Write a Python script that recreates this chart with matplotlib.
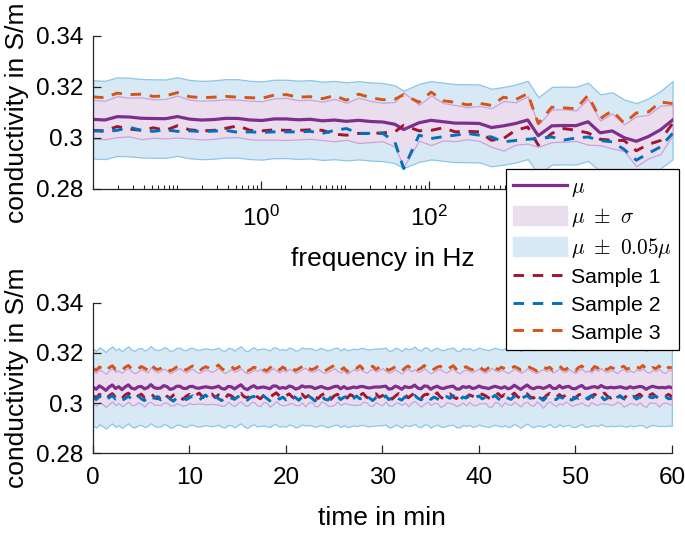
import numpy as np
import matplotlib
matplotlib.use('Agg')
import matplotlib.pyplot as plt
from matplotlib.ticker import FixedLocator, LogLocator, NullFormatter
from matplotlib.lines import Line2D
from matplotlib.patches import Patch

plt.rcParams['font.family'] = ['Liberation Sans', 'DejaVu Sans']
plt.rcParams['mathtext.fontset'] = 'custom'
plt.rcParams['mathtext.rm'] = 'Liberation Sans'
plt.rcParams['mathtext.it'] = 'Liberation Sans:italic'

# frequency sweep (Hz) and conductivity of the three samples (S/m)
freq = [0.01, 0.0139, 0.0194, 0.0270, 0.0376, 0.0523, 0.0729, 0.101, 0.141, 0.197,
        0.274, 0.381, 0.531, 0.739, 1.03, 1.43, 2.00, 2.78, 3.87, 5.39,
        7.50, 10.4, 14.5, 20.2, 28.2, 39.2, 50, 76.1, 106, 148,
        205, 286, 398, 554, 772, 1070, 1500, 2000, 2900, 4040,
        5620, 7830, 10900, 15200, 21100, 29400, 41000, 57000, 79400]
freq_s1 = [0.3030, 0.3028, 0.3045, 0.3035, 0.3030, 0.3040, 0.3030, 0.3048, 0.3032, 0.3028,
           0.3030, 0.3038, 0.3048, 0.3030, 0.3028, 0.3032, 0.3030, 0.3030, 0.3032, 0.3030,
           0.3015, 0.3011, 0.3018, 0.3018, 0.3020, 0.3024, 0.3050, 0.3028, 0.3030, 0.3040,
           0.3024, 0.3026, 0.3024, 0.2991, 0.2998, 0.3030, 0.3043, 0.2972, 0.3018, 0.3037,
           0.3030, 0.3020, 0.2995, 0.2991, 0.2990, 0.2950, 0.2975, 0.2990, 0.3057]
freq_s2 = [0.3028, 0.3026, 0.3030, 0.3042, 0.3030, 0.3026, 0.3032, 0.3026, 0.3028, 0.3025,
           0.3027, 0.3030, 0.3022, 0.3024, 0.3022, 0.3024, 0.3024, 0.3024, 0.3026, 0.3018,
           0.3030, 0.3037, 0.3018, 0.3018, 0.3018, 0.2985, 0.2880, 0.3011, 0.2998, 0.3005,
           0.3011, 0.3018, 0.3011, 0.3004, 0.2985, 0.2990, 0.2995, 0.2998, 0.3004, 0.2992,
           0.3000, 0.3004, 0.2990, 0.2985, 0.2955, 0.2913, 0.2940, 0.2965, 0.3018]
freq_s3 = [0.3161, 0.3158, 0.3176, 0.3170, 0.3172, 0.3163, 0.3165, 0.3178, 0.3162, 0.3158,
           0.3160, 0.3163, 0.3160, 0.3158, 0.3156, 0.3168, 0.3170, 0.3160, 0.3162, 0.3154,
           0.3166, 0.3148, 0.3172, 0.3158, 0.3150, 0.3152, 0.3170, 0.3140, 0.3180, 0.3146,
           0.3140, 0.3130, 0.3136, 0.3128, 0.3160, 0.3150, 0.3174, 0.3057, 0.3121, 0.3118,
           0.3115, 0.3167, 0.3076, 0.3107, 0.3058, 0.3098, 0.3102, 0.3141, 0.3135]

# long-term measurement, one value every 20 s (units of 1e-4 S/m)
time_min = np.linspace(0, 60, 181)
time_s1 = np.array([
    3030, 3021, 3035, 3027, 3016, 3029, 3038, 3024, 3031, 3019,
    3033, 3040, 3026, 3018, 3028, 3036, 3022, 3030, 3039, 3025,
    3017, 3029, 3041, 3027, 3020, 3032, 3037, 3024, 3015, 3028,
    3035, 3023, 3031, 3040, 3026, 3018, 3030, 3036, 3022, 3033,
    3027, 3016, 3034, 3029, 3019, 3031, 3039, 3025, 3021, 3032,
    3038, 3026, 3017, 3030, 3035, 3023, 3033, 3041, 3028, 3019,
    3029, 3037, 3024, 3016, 3031, 3036, 3022, 3030, 3040, 3027,
    3018, 3032, 3038, 3025, 3015, 3029, 3035, 3026, 3033, 3020,
    3034, 3027, 3017, 3031, 3039, 3024, 3019, 3032, 3037, 3023,
    3030, 3036, 3022, 3016, 3028, 3038, 3026, 3034, 3021, 3031,
    3040, 3027, 3019, 3033, 3036, 3023, 3029, 3041, 3025, 3017,
    3032, 3037, 3024, 3018, 3030, 3035, 3022, 3033, 3028, 3019,
    3027, 3036, 3030, 3021, 3016, 3031, 3038, 3025, 3034, 3023,
    3029, 3040, 3026, 3018, 3032, 3037, 3024, 3020, 3033, 3028,
    3017, 3030, 3039, 3027, 3022, 3034, 3025, 3031, 3038, 3024,
    3019, 3033, 3036, 3026, 3016, 3029, 3035, 3023, 3031, 3040,
    3027, 3020, 3032, 3037, 3025, 3018, 3030, 3034, 3022, 3029,
    3036, 3024, 3017, 3031, 3038, 3026, 3021, 3033, 3028, 3035,
    3025]) / 1e4
time_s2 = np.array([
    3023, 3014, 3027, 3019, 3009, 3022, 3030, 3016, 3025, 3012,
    3018, 3028, 3015, 3021, 3031, 3017, 3010, 3024, 3029, 3019,
    3026, 3013, 3021, 3030, 3016, 3008, 3020, 3027, 3023, 3014,
    3022, 3029, 3017, 3011, 3024, 3032, 3019, 3013, 3026, 3018,
    3010, 3021, 3028, 3020, 3015, 3025, 3031, 3017, 3012, 3023,
    3027, 3015, 3022, 3029, 3019, 3009, 3021, 3026, 3016, 3024,
    3013, 3020, 3030, 3022, 3011, 3025, 3017, 3028, 3020, 3008,
    3021, 3031, 3016, 3012, 3024, 3019, 3029, 3014, 3023, 3027,
    3011, 3019, 3028, 3017, 3024, 3032, 3020, 3010, 3022, 3026,
    3016, 3029, 3014, 3021, 3030, 3018, 3012, 3025, 3017, 3023,
    3031, 3020, 3013, 3022, 3028, 3015, 3024, 3018, 3009, 3021,
    3026, 3019, 3030, 3016, 3011, 3024, 3020, 3028, 3014, 3022,
    3029, 3017, 3023, 3012, 3021, 3031, 3018, 3010, 3025, 3020,
    3015, 3027, 3022, 3013, 3024, 3030, 3019, 3016, 3028, 3021,
    3011, 3023, 3029, 3018, 3014, 3025, 3020, 3031, 3017, 3012,
    3024, 3019, 3027, 3015, 3022, 3030, 3016, 3021, 3028, 3013,
    3020, 3026, 3014, 3023, 3029, 3018, 3011, 3022, 3027, 3016,
    3024, 3019, 3012, 3025, 3021, 3028, 3015, 3020, 3026, 3017,
    3019]) / 1e4
time_s3 = np.array([
    3138, 3131, 3144, 3136, 3127, 3141, 3149, 3135, 3140, 3130,
    3143, 3150, 3137, 3129, 3136, 3146, 3139, 3132, 3153, 3141,
    3133, 3138, 3147, 3140, 3128, 3135, 3144, 3151, 3139, 3132,
    3141, 3148, 3134, 3127, 3138, 3145, 3140, 3133, 3142, 3152,
    3138, 3130, 3137, 3146, 3135, 3141, 3149, 3136, 3128, 3134,
    3143, 3139, 3148, 3134, 3129, 3140, 3151, 3137, 3132, 3144,
    3135, 3147, 3140, 3130, 3137, 3145, 3153, 3139, 3133, 3138,
    3148, 3136, 3128, 3135, 3143, 3150, 3138, 3131, 3141, 3126,
    3135, 3146, 3139, 3149, 3136, 3130, 3142, 3147, 3134, 3143,
    3151, 3138, 3131, 3137, 3145, 3134, 3127, 3140, 3148, 3136,
    3144, 3133, 3139, 3150, 3137, 3128, 3135, 3143, 3147, 3136,
    3131, 3141, 3149, 3135, 3127, 3139, 3145, 3137, 3133, 3142,
    3148, 3136, 3130, 3141, 3152, 3139, 3134, 3143, 3137, 3129,
    3138, 3146, 3140, 3132, 3136, 3149, 3141, 3135, 3128, 3140,
    3147, 3137, 3143, 3131, 3139, 3150, 3136, 3133, 3145, 3138,
    3129, 3142, 3148, 3135, 3140, 3132, 3146, 3139, 3151, 3136,
    3134, 3143, 3137, 3128, 3141, 3147, 3135, 3140, 3133, 3145,
    3139, 3150, 3136, 3131, 3142, 3137, 3148, 3134, 3129, 3143,
    3140]) / 1e4

labels = [r'$\mu$', r'$\mu\ \pm\ \sigma$', r'$\mu\ \pm\ 0.05\mu$', 'Sample 1', 'Sample 2', 'Sample 3']

PURPLE = '#7E2F8E'
SAMPLE_COLORS = ['#A2142F', '#0072BD', '#D95319']
BLUE_FILL, BLUE_EDGE = '#D6E9F5', '#8CC6EA'
PINK_FILL, PINK_EDGE = '#EADDEE', '#CDA2DA'
DASH = (0, (3.6, 3))
AX_COLOR = '#262626'


def draw(ax, x, samples):
    S = np.vstack(samples)
    mu = S.mean(axis=0)
    sd = S.std(axis=0, ddof=1)
    ax.fill_between(x, 0.95 * mu, 1.05 * mu, facecolor=BLUE_FILL, edgecolor=BLUE_EDGE, lw=0.9)
    ax.fill_between(x, mu - sd, mu + sd, facecolor=PINK_FILL, edgecolor=PINK_EDGE, lw=0.9)
    ax.plot(x, mu, color=PURPLE, lw=2.3)
    for s, c in zip(samples, SAMPLE_COLORS):
        ax.plot(x, s, color=c, lw=2.1, ls=DASH)
    ax.set_ylim(0.28, 0.34)
    ax.yaxis.set_major_locator(FixedLocator([0.28, 0.30, 0.32, 0.34]))
    ax.set_yticklabels(['0.28', '0.3', '0.32', '0.34'])
    for side in ['top', 'right']:
        ax.spines[side].set_visible(False)
    for side in ['left', 'bottom']:
        ax.spines[side].set_color(AX_COLOR)
        ax.spines[side].set_linewidth(0.9)
    ax.tick_params(which='major', direction='in', length=6, width=0.9, color=AX_COLOR,
                   labelcolor='black', labelsize=17.5)
    ax.tick_params(which='minor', direction='in', length=3, width=0.8, color=AX_COLOR)
    ax.tick_params(axis='y', pad=7)
    ax.set_ylabel('conductivity in S/m', fontsize=19)
    ax.yaxis.label.set_verticalalignment('center')
    ax.yaxis.set_label_coords(-0.131, 0.5)
    ax.xaxis.label.set_verticalalignment('center')


fig = plt.figure(figsize=(6.85, 5.34), dpi=100)
ax1 = fig.add_axes([0.1358, 0.6461, 0.846, 0.2865])
ax2 = fig.add_axes([0.1358, 0.1511, 0.845, 0.2820])

draw(ax1, freq, [freq_s1, freq_s2, freq_s3])
ax1.set_xscale('log')
ax1.set_xlim(freq[0], freq[-1])
# 10^4 sits under the legend in the original, so it carries no label
ax1.xaxis.set_major_locator(FixedLocator([1e0, 1e2, 1e4]))
ax1.set_xticklabels([r'$\mathregular{10^{0}}$', r'$\mathregular{10^{2}}$', ''])
ax1.xaxis.set_minor_locator(LogLocator(base=10, subs=np.arange(1, 10), numticks=50))
ax1.xaxis.set_minor_formatter(NullFormatter())
ax1.tick_params(axis='x', pad=12)
ax1.set_xlabel('frequency in Hz', fontsize=19)
ax1.xaxis.set_label_coords(0.5, -0.46)

draw(ax2, time_min, [time_s1, time_s2, time_s3])
ax2.set_xlim(0, 60)
ax2.set_xticks(range(0, 61, 10))
ax2.tick_params(axis='x', pad=10)
ax2.set_xlabel('time in min', fontsize=19)
ax2.xaxis.set_label_coords(0.5, -0.43)

handles = [Line2D([], [], color=PURPLE, lw=2.3),
           Patch(facecolor=PINK_FILL, edgecolor=PINK_FILL),
           Patch(facecolor=BLUE_FILL, edgecolor=BLUE_FILL)]
handles += [Line2D([], [], color=c, lw=2.1, ls=DASH) for c in SAMPLE_COLORS]
leg = fig.legend(handles, labels, loc='upper left', bbox_to_anchor=(506 / 685, 1 - 169 / 534),
                 bbox_transform=fig.transFigure, fontsize=15.3, frameon=True, fancybox=False,
                 framealpha=1, edgecolor='black', borderpad=0.35, labelspacing=0.32,
                 handlelength=2.5, handleheight=1.0, handletextpad=0.2, borderaxespad=0)
leg.get_frame().set_linewidth(0.9)
for t in leg.get_texts():
    t.set_math_fontfamily('cm')

fig.savefig('out.png', dpi=100)
